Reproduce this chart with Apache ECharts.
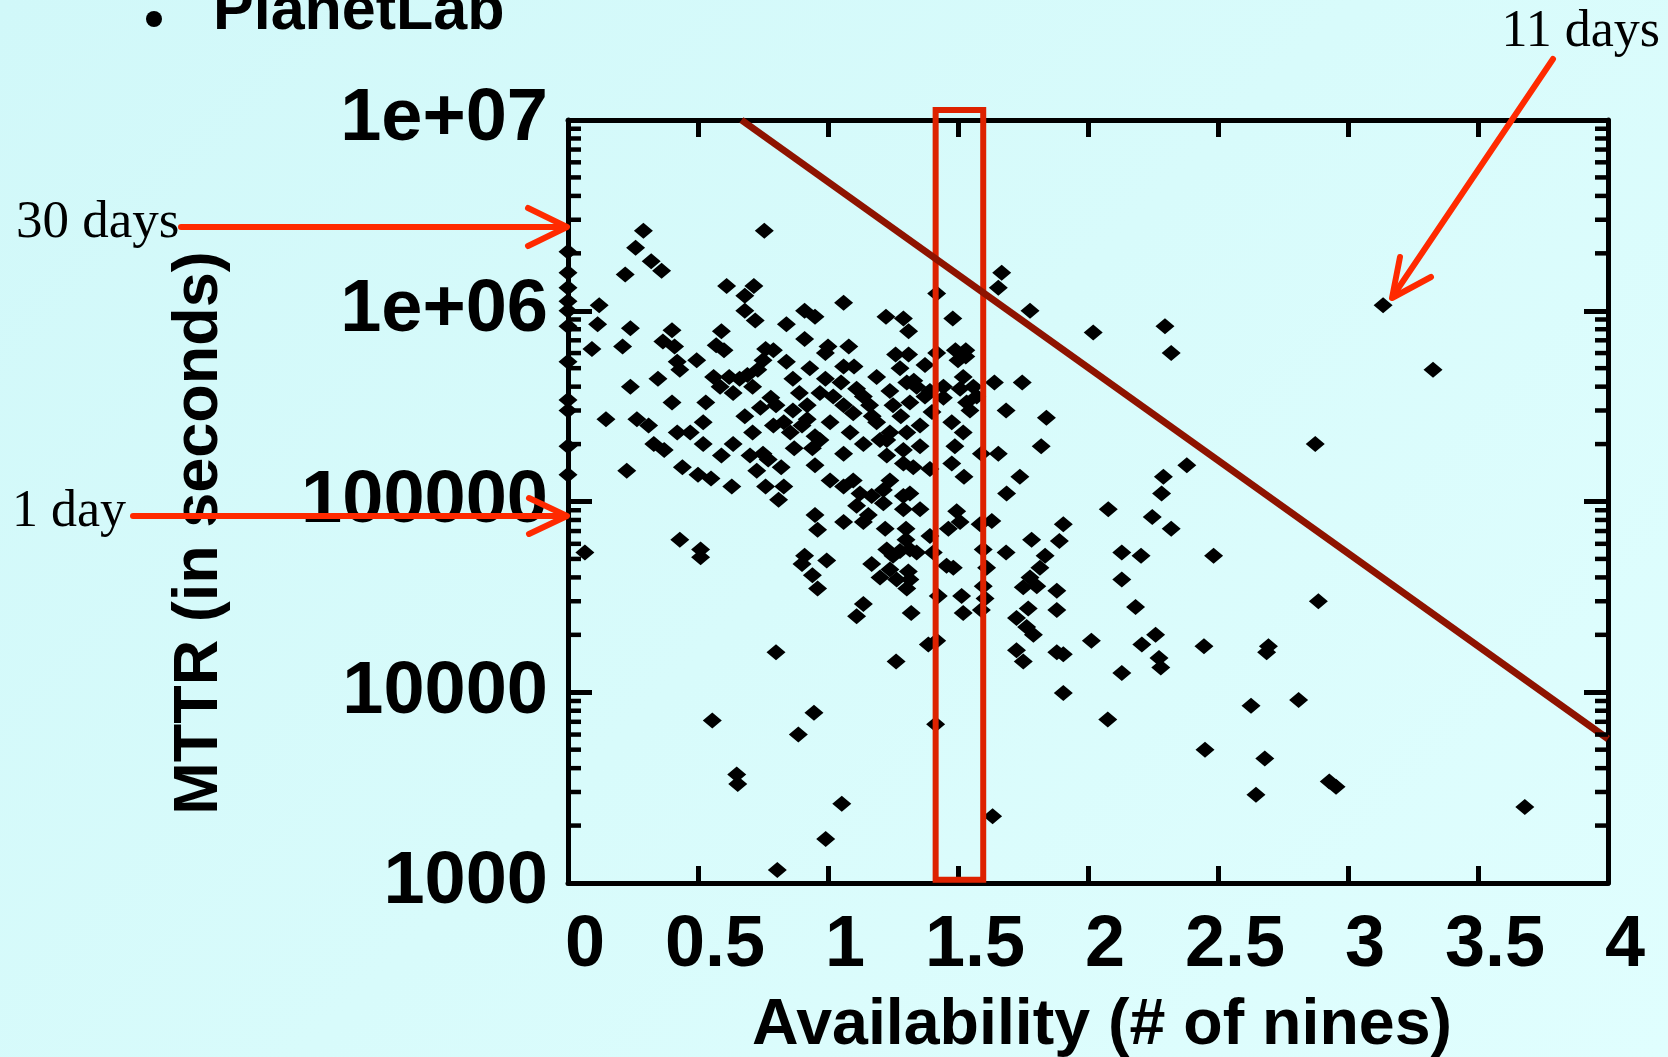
<!DOCTYPE html>
<html>
<head>
<meta charset="utf-8">
<script src="https://cdn.jsdelivr.net/npm/echarts@6/dist/echarts.min.js"></script>
<style>
html,body{margin:0;padding:0;width:1668px;height:1057px;overflow:hidden;
background:linear-gradient(135deg,#d1f8f9 0%,#d8fbfb 50%,#e0fefe 100%);}
#chart{width:1668px;height:1057px;}
</style>
</head>
<body>
<div id="chart"></div>
<script>
// ---- data: [availability (# of nines), MTTR (seconds)] ----
const nodesAtZero = [
  [0,2.04e6],[0,1.58e6],[0,1.32e6],[0,1.12e6],[0,1.0e6],[0,8.3e5],[0,5.4e5],
  [0,3.4e5],[0,3.0e5],[0,1.95e5],[0,1.38e5]
];
const nodesLowNines = [
  [0.065,5.4e4],
  [0.29,2.63e6],[0.755,2.63e6],[0.26,2.14e6],[0.32,1.82e6],[0.36,1.62e6],[0.22,1.55e6],
  [0.61,1.35e6],[0.715,1.35e6],[0.68,1.2e6],[0.12,1.07e6],[0.68,1.0e6],[0.72,8.9e5],
  [0.91,1.0e6],[0.95,9.3e5],[0.114,8.5e5],[0.24,8.1e5],[0.40,7.9e5],[0.59,7.8e5],
  [0.84,8.5e5],[0.91,7.1e5],[0.092,6.3e5],[0.21,6.5e5],[0.365,6.9e5],[0.41,6.5e5],
  [0.57,6.6e5],[0.60,6.2e5],[0.495,5.5e5],[0.42,5.4e5],[0.43,4.9e5],[0.79,6.2e5],
  [0.75,5.5e5],[0.84,5.4e5],[0.73,4.9e5],[0.93,5.0e5],[0.56,4.5e5],[0.62,4.5e5],
  [0.66,4.4e5],[0.585,4.0e5],[0.71,4.0e5],[0.865,4.4e5],[0.89,3.7e5],[0.635,3.7e5],
  [0.346,4.4e5],[0.24,4.0e5],[0.40,3.3e5],[0.53,3.3e5],[0.74,3.1e5],[0.80,3.2e5],
  [0.865,3.0e5],[0.92,3.2e5],[0.146,2.7e5],[0.265,2.7e5],[0.31,2.5e5],[0.42,2.3e5],
  [0.47,2.3e5],[0.52,2.6e5],[0.71,2.3e5],[0.79,2.5e5],[0.855,2.3e5],[0.92,2.7e5],
  [0.33,2.0e5],[0.52,2.0e5],[0.635,2.0e5],
  [0.76,6.3e5],[0.69,4.6e5],[0.78,3.5e5],[0.83,2.6e5],[0.90,2.5e5],[0.95,2.2e5],
  [0.68,2.8e5],[0.87,1.9e5],
  [0.37,1.86e5],[0.59,1.74e5],[0.70,1.74e5],[0.75,1.78e5],[0.77,1.66e5],[0.726,1.45e5],
  [0.82,1.51e5],[0.94,1.9e5],[0.95,1.55e5],[0.226,1.45e5],[0.44,1.51e5],[0.50,1.38e5],
  [0.55,1.32e5],[0.63,1.2e5],[0.76,1.2e5],[0.83,1.2e5],[0.81,1.02e5],[0.95,8.5e4],
  [0.96,7.1e4],[0.43,6.3e4],[0.51,5.6e4],[0.51,5.1e4],[0.91,5.2e4],[0.90,4.7e4],
  [0.94,4.1e4],[0.96,3.5e4],[0.80,1.62e4],
  [0.555,7.1e3],[0.946,7.8e3],[0.886,6.0e3],[0.649,3.7e3],[0.653,3.3e3],[0.805,1.17e3],
  [0.991,1.7e3]
];
const nodesMidNines = [
  [1.668,1.58e6],[1.655,1.32e6],[1.418,1.23e6],[1.777,1.0e6],[1.06,1.1e6],[1.223,9.3e5],
  [1.29,9.1e5],[1.31,7.8e5],[1.48,9.1e5],[1.0,6.5e5],[0.99,6.0e5],[1.08,6.5e5],
  [1.26,5.9e5],[1.31,5.9e5],[1.373,5.2e5],[1.418,6.0e5],[1.49,6.2e5],[1.53,6.2e5],
  [1.53,5.75e5],[1.50,5.5e5],[1.06,5.1e5],[1.10,5.1e5],[1.277,5.0e5],[1.187,4.5e5],
  [0.99,4.4e5],[1.52,4.5e5],[1.64,4.2e5],[1.747,4.2e5],[1.238,3.8e5],[1.303,4.2e5],
  [1.341,4.0e5],[1.392,3.8e5],[1.444,4.0e5],[1.508,3.9e5],[1.559,4.0e5],[1.572,3.55e5],
  [0.969,3.7e5],[1.02,3.55e5],[1.11,3.9e5],[1.136,3.55e5],[1.06,3.2e5],[1.097,2.9e5],
  [1.16,3.2e5],[1.25,3.2e5],[1.315,3.3e5],[1.373,3.55e5],[1.444,3.5e5],[1.533,3.3e5],
  [1.546,3.0e5],[1.685,3.0e5],[1.84,2.75e5],[1.008,2.6e5],[1.085,2.3e5],[1.187,2.6e5],
  [1.238,2.3e5],[1.303,2.3e5],[1.354,2.5e5],[1.476,2.6e5],[1.52,2.3e5],[0.969,2.1e5],
  [1.06,1.78e5],[1.136,2.0e5],[1.226,2.1e5],[1.29,1.86e5],[1.354,1.95e5],[1.488,1.95e5],
  [1.59,1.78e5],[1.655,1.78e5],[1.82,1.95e5],[1.008,1.29e5],[1.097,1.29e5],[1.226,1.74e5],
  [1.29,1.58e5],[1.328,1.51e5],[1.392,1.48e5],[1.476,1.58e5],[1.523,1.35e5],[1.738,1.35e5],
  [1.06,1.2e5],[1.123,1.1e5],[1.213,1.15e5],[1.238,1.29e5],[1.315,1.1e5],[1.687,1.1e5],
  [1.17,2.8e5],[1.28,2.8e5],[1.40,2.95e5],[1.33,4.3e5],[1.05,4.2e5],[1.20,2.1e5],
  [1.168,1.07e5],[1.29,1.07e5],[1.11,9.5e4],[1.213,9.8e4],[1.29,9.1e4],[1.354,9.1e4],
  [1.06,7.8e4],[1.136,7.8e4],[1.155,8.5e4],[1.495,8.9e4],[1.508,7.8e4],[1.463,7.2e4],
  [1.585,7.6e4],[1.63,7.9e4],[1.22,7.2e4],[1.30,7.2e4],[1.30,6.3e4],[1.315,5.6e4],
  [1.341,5.4e4],[1.277,5.5e4],[1.226,5.6e4],[1.25,5.2e4],[1.392,6.6e4],[1.405,5.4e4],
  [1.783,6.3e4],[1.89,6.2e4],[1.905,7.6e4],[1.597,5.6e4],[1.685,5.4e4],[1.835,5.2e4],
  [0.995,4.9e4],[1.168,4.7e4],[1.238,4.4e4],[1.309,4.3e4],[1.315,3.9e4],[1.20,4.0e4],
  [1.264,3.9e4],[1.303,3.5e4],[1.456,4.6e4],[1.482,4.5e4],[1.61,4.5e4],[1.815,4.5e4],
  [1.777,4.0e4],[1.751,3.55e4],[1.803,3.6e4],[1.88,3.4e4],[1.597,3.6e4],[1.604,3.1e4],
  [1.424,3.2e4],[1.514,3.2e4],[1.136,2.9e4],[1.11,2.5e4],[1.32,2.6e4],[1.52,2.6e4],
  [1.59,2.7e4],[1.77,2.75e4],[1.88,2.7e4],[1.725,2.45e4],[1.764,2.2e4],[1.79,2.0e4],
  [1.386,1.78e4],[1.418,1.86e4],[1.725,1.66e4],[1.751,1.45e4],[1.88,1.62e4],[1.905,1.58e4],
  [1.262,1.45e4],[1.905,9.9e3],[1.053,2.6e3],[1.414,6.8e3],[1.633,2.24e3]
];
const nodesHighNines = [
  [2.02,7.7e5],[2.296,8.3e5],[2.32,6.0e5],[2.874,2.0e5],[2.38,1.55e5],[2.29,1.35e5],
  [2.283,1.1e5],[2.078,9.1e4],[2.247,8.3e4],[2.32,7.2e4],
  [2.13,5.4e4],[2.204,5.2e4],[2.483,5.2e4],[2.13,3.9e4],[2.183,2.8e4],[2.26,2.0e4],
  [2.207,1.78e4],[2.273,1.51e4],[2.28,1.35e4],[2.013,1.86e4],[2.13,1.26e4],[2.446,1.74e4],
  [2.694,1.74e4],[2.687,1.62e4],[2.886,3.0e4],[2.076,7.2e3],[2.627,8.5e3],[2.81,9.1e3],
  [2.45,5.0e3],[2.68,4.5e3],[2.646,2.9e3],[2.928,3.4e3],[2.954,3.2e3],
  [3.135,1.07e6],[3.327,4.9e5],[3.68,2.5e3]
];
const trendLine = [[0.667,1e7],[4,5700]];
const highlightBox = [[1.414,1.13e7],[1.597,1.13e7],[1.597,1040],[1.414,1040],[1.414,1.13e7]];
const yTickLabels = {1000:'1000',10000:'10000',100000:'100000',1000000:'1e+06',10000000:'1e+07'};
const decades = [1e3,1e4,1e5,1e6];
const minorMultipliers = [2,3,4,5,6,7,8,9];
const minorTickValues = [];
decades.forEach(d => minorMultipliers.forEach(m => minorTickValues.push(d*m)));

const allNodes = nodesAtZero.concat(nodesLowNines, nodesMidNines, nodesHighNines);

const chart = echarts.init(document.getElementById('chart'), null, {renderer:'canvas'});
const black = '#000';
const tickFont = 'Liberation Sans';

const option = {
  animation:false,
  backgroundColor:'transparent',
  grid:{left:568,right:60,top:120,bottom:174,containLabel:false},
  xAxis:[
    {type:'value',min:0,max:4,interval:0.5,position:'bottom',
     axisLine:{show:true,onZero:false,lineStyle:{color:black,width:5}},
     axisTick:{show:true,inside:true,length:17,lineStyle:{color:black,width:5}},
     axisLabel:{show:true,color:black,fontFamily:tickFont,fontWeight:'bold',fontSize:72,
       margin:27,padding:[0,0,0,34]},
     splitLine:{show:false}},
    {type:'value',min:0,max:4,interval:0.5,position:'top',
     axisLine:{show:true,onZero:false,lineStyle:{color:black,width:5}},
     axisTick:{show:true,inside:true,length:17,lineStyle:{color:black,width:5}},
     axisLabel:{show:false},splitLine:{show:false}}
  ],
  yAxis:[
    {type:'log',logBase:10,min:1000,max:1e7,splitNumber:4,position:'left',
     axisLine:{show:true,onZero:false,lineStyle:{color:black,width:5}},
     axisTick:{show:true,inside:true,length:24,lineStyle:{color:black,width:5}},
     axisLabel:{show:true,color:black,fontFamily:tickFont,fontWeight:'bold',fontSize:74,margin:20,
       formatter:v => yTickLabels[Math.round(v)] || String(Math.round(v))},
     splitLine:{show:false}},
    {type:'log',logBase:10,min:1000,max:1e7,splitNumber:4,position:'right',
     axisLine:{show:true,onZero:false,lineStyle:{color:black,width:5}},
     axisTick:{show:true,inside:true,length:24,lineStyle:{color:black,width:5}},
     axisLabel:{show:false},splitLine:{show:false}}
  ],
  series:[
    {type:'custom',coordinateSystem:'cartesian2d',xAxisIndex:0,yAxisIndex:0,
     data:minorTickValues.map(v=>[0,v]),encode:{x:0,y:1},clip:false,silent:true,z:5,
     renderItem:(params,api)=>{
       const v = api.value(1);
       const l = api.coord([0,v]);
       const r = api.coord([4,v]);
       return {type:'group',children:[
         {type:'line',shape:{x1:l[0],y1:l[1],x2:l[0]+13,y2:l[1]},style:{stroke:black,lineWidth:4.5}},
         {type:'line',shape:{x1:r[0]-13,y1:r[1],x2:r[0],y2:r[1]},style:{stroke:black,lineWidth:4.5}}
       ]};
     }},
    {type:'scatter',name:'nodes',data:allNodes,symbol:'diamond',symbolSize:[19,16],
     itemStyle:{color:black,opacity:1},clip:false,z:2,silent:true},
    {type:'line',name:'box',data:highlightBox,showSymbol:false,clip:false,z:3,silent:true,
     lineStyle:{color:'#dd2200',width:6,join:'miter',cap:'square'}},
    {type:'line',name:'trend',data:trendLine,showSymbol:false,clip:false,z:4,silent:true,
     lineStyle:{color:'#8e1300',width:7}}
  ],
  graphic:[
    {type:'circle',shape:{cx:154,cy:19,r:8},style:{fill:black},z:10},
    {type:'text',x:213,y:12,z:10,style:{text:'PlanetLab',font:'bold 61px "Liberation Sans"',fill:black,
      align:'left',verticalAlign:'middle',textAlign:'left',textVerticalAlign:'middle'}},
    {type:'text',x:1102,y:1026,z:10,style:{text:'Availability (# of nines)',font:'bold 64.5px "Liberation Sans"',fill:black,
      align:'center',verticalAlign:'middle',textAlign:'center',textVerticalAlign:'middle'}},
    {type:'text',x:200,y:533,rotation:Math.PI/2,z:10,style:{text:'MTTR (in seconds)',font:'bold 63px "Liberation Sans"',fill:black,
      align:'center',verticalAlign:'middle',textAlign:'center',textVerticalAlign:'middle'}},
    {type:'text',x:16,y:223,z:10,style:{text:'30 days',font:'53px "Liberation Serif"',fill:black,
      align:'left',verticalAlign:'middle',textAlign:'left',textVerticalAlign:'middle'}},
    {type:'text',x:12,y:512,z:10,style:{text:'1 day',font:'52px "Liberation Serif"',fill:black,
      align:'left',verticalAlign:'middle',textAlign:'left',textVerticalAlign:'middle'}},
    {type:'text',x:1660,y:32,z:10,style:{text:'11 days',font:'52px "Liberation Serif"',fill:black,
      align:'right',verticalAlign:'middle',textAlign:'right',textVerticalAlign:'middle'}},
    {type:'polyline',z:11,shape:{points:[[181,227],[566,227]]},style:{stroke:'#ff2a00',lineWidth:6,fill:null,lineCap:'round'}},
    {type:'polyline',z:11,shape:{points:[[528,208],[567,227],[528,246]]},style:{stroke:'#ff2a00',lineWidth:6,fill:null,lineCap:'round',lineJoin:'round'}},
    {type:'polyline',z:11,shape:{points:[[133,516],[566,516]]},style:{stroke:'#ff2a00',lineWidth:6,fill:null,lineCap:'round'}},
    {type:'polyline',z:11,shape:{points:[[529,498],[567,516],[529,534]]},style:{stroke:'#ff2a00',lineWidth:6,fill:null,lineCap:'round',lineJoin:'round'}},
    {type:'polyline',z:11,shape:{points:[[1553,59],[1393,296]]},style:{stroke:'#ff2a00',lineWidth:6,fill:null,lineCap:'round'}},
    {type:'polyline',z:11,shape:{points:[[1400,257],[1392,298],[1431,277]]},style:{stroke:'#ff2a00',lineWidth:6,fill:null,lineCap:'round',lineJoin:'round'}}
  ]
};
chart.setOption(option);
</script>
</body>
</html>
